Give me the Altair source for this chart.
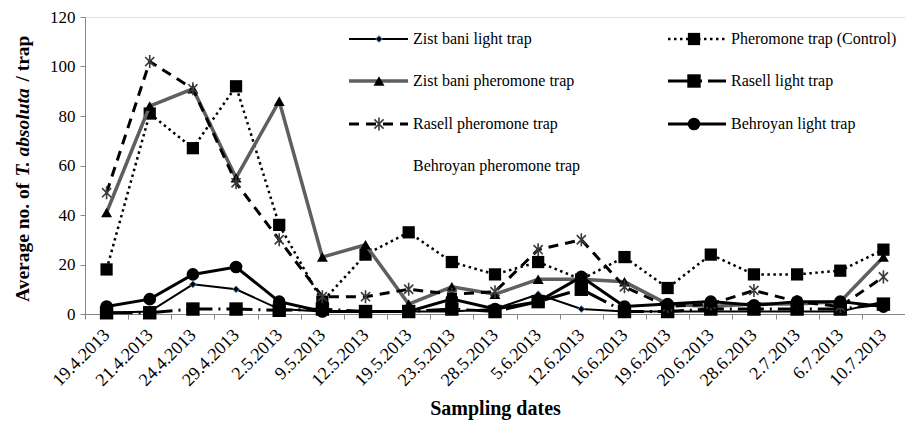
import altair as alt
import pandas as pd

dates = ["19.4.2013", "21.4.2013", "24.4.2013", "29.4.2013", "2.5.2013", "9.5.2013",
         "12.5.2013", "19.5.2013", "23.5.2013", "28.5.2013", "5.6.2013", "12.6.2013",
         "16.6.2013", "19.6.2013", "20.6.2013", "28.6.2013", "2.7.2013", "6.7.2013", "10.7.2013"]

zist_light = [0.5, 1, 12, 10, 2, 1, 1, 1, 1, 2, 8, 2, 1, 1, 1, 1, 1, 1, 5]
control = [18, 81, 67, 92, 36, 5, 24, 33, 21, 16, 21, 14, 23, 10.5, 24, 16, 16, 17.5, 26]
zist_pher = [41, 84, 91, 55, 86, 23, 28, 4, 11, 8, 14, 14, 13, 4, 3, 4, 4, 5, 23]
rasell_light = [0.5, 0.5, 2, 2, 1.5, 2, 1, 1, 2, 1, 5, 10, 1, 1, 2, 2, 2, 2, 4]
rasell_pher = [49, 102, 91, 53, 30, 7, 7, 10, 8, 9, 26, 30, 11, 3, 4, 9.5, 5, 3, 15]
behroyan_light = [3, 6, 16, 19, 5, 1, 1, 1, 6, 2, 5, 15, 3, 4, 5, 3.5, 5, 5, 3]

names = ["Zist bani light trap", "Pheromone trap (Control)", "Zist bani pheromone trap",
         "Rasell light trap", "Rasell pheromone trap", "Behroyan light trap",
         "Behroyan pheromone trap"]
y_ticks = [0, 20, 40, 60, 80, 100, 120]

W, H = 820, 297
n = len(dates)
step = W / n
FONT = "Liberation Serif"
GREY = "#868686"

ASTER = "M-0.7,-0.7L0.7,0.7M-0.7,0.7L0.7,-0.7M0,-1L0,1"

xscale = alt.Scale(type="point", domain=dates, padding=0.5)
yscale = alt.Scale(domain=[0, 120], nice=False)
xaxis = alt.Axis(title="Sampling dates", labelAngle=-45, labelAlign="right",
                 labelBaseline="middle", tickOffset=-step / 2, labelOffset=step / 2,
                 labelFont=FONT, labelFontSize=18, labelColor="black", labelPadding=13,
                 tickColor=GREY, domainColor=GREY, tickSize=5, grid=False,
                 titleFont=FONT, titleFontSize=20, titleFontWeight="bold", titleColor="black",
                 titlePadding=9, labelOverlap=False)
yaxis = alt.Axis(title=None, values=y_ticks, labelFont=FONT, labelFontSize=17, labelColor="black",
                 tickColor=GREY, domainColor=GREY, tickSize=5, grid=False, labelPadding=5)

# style per series (line, marker), legend slot (column, row)
styles = [
    dict(vals=zist_light, color="black", width=2, dash=None,
         shape="diamond", size=45, fill="black", mstroke="#4f81bd", mwidth=1, col=0, row=0),
    dict(vals=control, color="black", width=2.5, dash=[2.5, 3.5],
         shape="square", size=150, fill="black", mstroke="black", mwidth=0, col=1, row=0),
    dict(vals=zist_pher, color="#5f5f5f", width=3.5, dash=None,
         shape="triangle-up", size=120, fill="black", mstroke="black", mwidth=0, col=0, row=1),
    dict(vals=rasell_light, color="black", width=3, dash=[26, 6, 2, 6],
         shape="square", size=180, fill="black", mstroke="black", mwidth=0, col=1, row=1),
    dict(vals=rasell_pher, color="black", width=3, dash=[10, 7],
         shape=ASTER, size=170, fill=None, mstroke="#3a3a3a", mwidth=1.6, col=0, row=2),
    dict(vals=behroyan_light, color="black", width=3, dash=None,
         shape="circle", size=160, fill="black", mstroke="black", mwidth=0, col=1, row=2),
    dict(vals=None, col=0, row=3),
]

# legend layout (pixels inside the plot area)
leg_line = {0: (264, 323), 1: (583, 641)}
leg_mark = {0: 294, 1: 609}
leg_text = {0: 328, 1: 646}
leg_rows = [22, 64, 107, 149]

layers = []
for name, st in zip(names, styles):
    ly = leg_rows[st["row"]]
    c = st["col"]
    ldf = pd.DataFrame({"label": [name]})
    if st["vals"] is not None:
        df = pd.DataFrame({"date": dates, "v": st["vals"]})
        lkw = dict(color=st["color"], strokeWidth=st["width"])
        if st["dash"]:
            lkw["strokeDash"] = st["dash"]
        enc = dict(x=alt.X("date:N", scale=xscale, axis=xaxis, sort=dates),
                   y=alt.Y("v:Q", scale=yscale, axis=yaxis))
        layers.append(alt.Chart(df).mark_line(**lkw).encode(**enc))
        pkw = dict(shape=st["shape"], size=st["size"], opacity=1)
        if st["fill"]:
            pkw.update(filled=True, fill=st["fill"])
            if st["mwidth"]:
                pkw.update(stroke=st["mstroke"], strokeWidth=st["mwidth"])
        else:
            pkw.update(filled=False, stroke=st["mstroke"], strokeWidth=st["mwidth"])
        layers.append(alt.Chart(df).mark_point(**pkw).encode(**enc))
        # legend entry
        x0, x1 = leg_line[c]
        layers.append(alt.Chart(ldf).mark_rule(**lkw).encode(
            x=alt.value(x0), x2=alt.value(x1), y=alt.value(ly)))
        layers.append(alt.Chart(ldf).mark_point(**pkw).encode(
            x=alt.value(leg_mark[c]), y=alt.value(ly)))
    layers.append(alt.Chart(ldf).mark_text(align="left", baseline="middle", font=FONT,
                                           fontSize=16, color="black").encode(
        x=alt.value(leg_text[c]), y=alt.value(ly), text="label:N"))

# y axis title with italic species name
title_parts = [("Average no. of", "normal", 285), ("T. absoluta", "italic", 159.4),
               ("/ trap", "normal", 64.6)]
for txt, style, ypos in title_parts:
    layers.append(alt.Chart(pd.DataFrame({"t": [txt]})).mark_text(
        angle=270, align="left", baseline="middle", font=FONT, fontSize=19.5,
        fontWeight="bold", fontStyle=style, color="black").encode(
        x=alt.value(-62), y=alt.value(ypos), text="t:N"))

chart = alt.layer(*layers).properties(
    width=W, height=H, padding={"left": 4, "top": 0, "right": 0, "bottom": 2}
).configure_view(stroke=None).configure(background="white")

chart.save("out.html", embed_options={"renderer": "svg", "actions": False})
